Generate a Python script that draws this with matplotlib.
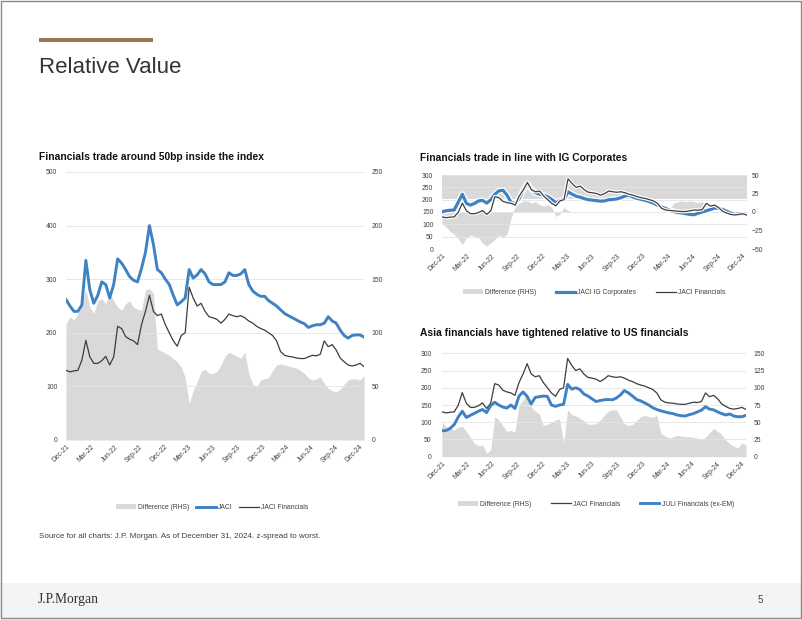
import numpy as np
import matplotlib
matplotlib.use('Agg')
import matplotlib.pyplot as plt
import matplotlib.patheffects as pe
from matplotlib.patches import Rectangle, Patch
from matplotlib.lines import Line2D

plt.rcParams['font.family'] = ['Liberation Sans', 'DejaVu Sans']

# quarterly date labels on every x axis
quarter_labels = ['Dec-21', 'Mar-22', 'Jun-22', 'Sep-22', 'Dec-22', 'Mar-23', 'Jun-23',
                  'Sep-23', 'Dec-23', 'Mar-24', 'Jun-24', 'Sep-24', 'Dec-24']

# chart 1: JACI vs JACI Financials (bp), difference on RHS
jaci = [262, 250, 240, 240, 252, 335, 280, 255, 270, 295,
        290, 265, 290, 338, 330, 318, 305, 298, 295, 320,
        350, 400, 365, 318, 312, 300, 290, 270, 252, 258,
        265, 318, 302, 308, 318, 310, 295, 290, 290, 290,
        295, 312, 307, 307, 310, 318, 290, 278, 272, 268,
        268, 260, 255, 250, 243, 236, 232, 228, 224, 220,
        217, 210, 213, 215, 215, 218, 230, 222, 218, 205,
        195, 190, 195, 196, 196, 192]
jaci_fin = [130, 127, 129, 130, 149, 186, 155, 143, 143, 148,
            156, 140, 155, 212, 208, 193, 188, 185, 178, 215,
            240, 270, 240, 232, 235, 215, 200, 185, 175, 195,
            200, 285, 265, 250, 255, 240, 230, 228, 225, 218,
            225, 235, 232, 230, 232, 228, 222, 218, 212, 208,
            205, 200, 195, 185, 165, 158, 156, 155, 153, 152,
            152, 155, 158, 157, 160, 185, 174, 178, 168, 153,
            146, 140, 138, 140, 143, 137]
diff_jaci = [108, 115, 112, 118, 125, 140, 124, 118, 130, 132,
             127, 137, 130, 124, 121, 127, 130, 124, 122, 121,
             140, 141, 137, 85, 83, 81, 79, 76, 73, 68,
             58, 34, 46, 54, 64, 66, 62, 62, 64, 70,
             78, 82, 80, 78, 76, 82, 62, 52, 50, 56,
             57, 58, 65, 70, 71, 70, 69, 68, 67, 65,
             62, 58, 56, 57, 59, 53, 48, 46, 45, 47,
             52, 56, 57, 57, 56, 60]

# chart 2: JACI IG Corporates vs JACI Financials
jaci_ig = [151, 155, 157, 158, 190, 222, 185, 178, 185, 195,
           197, 186, 200, 222, 236, 238, 218, 188, 184, 205,
           240, 265, 242, 228, 222, 218, 212, 201, 187, 197,
           200, 232, 222, 214, 210, 204, 200, 198, 196, 194,
           195, 200, 201, 203, 208, 215, 218, 210, 205, 201,
           197, 192, 186, 178, 170, 164, 157, 152, 148, 146,
           143, 140, 139, 145, 150, 155, 160, 166, 165, 160,
           153, 145, 140, 143, 142, 140]
diff_ig = [-16, -20, -26, -30, -36, -44, -35, -31, -33, -35,
           -42, -46, -42, -37, -31, -34, -30, -8, 8, 12,
           15, 15, 12, 14, 10, 8, 10, 6, -6, -3,
           6, 2, 0, 0, 0, 0, 0, 0, 0, 0,
           0, 0, 0, 0, 0, 0, 0, 0, 0, 0,
           0, 0, 0, 0, 0, 0, 4, 12, 14, 15,
           14, 15, 14, 13, 14, 10, 3, 0, 0, 0,
           0, 0, 0, 0, 0, 0]
ig_band = (17.5, 50)  # grey block drawn across the top of the RHS scale

# chart 3: JACI Financials vs JULI Financials (ex-EM)
juli_fin = [75, 76, 82, 93, 115, 132, 114, 120, 126, 132,
            137, 128, 148, 158, 150, 144, 141, 150, 140, 176,
            188, 175, 153, 172, 174, 176, 175, 150, 146, 150,
            152, 210, 196, 200, 195, 182, 176, 168, 160, 163,
            165, 166, 165, 170, 179, 192, 185, 176, 166, 162,
            156, 150, 142, 137, 133, 130, 127, 125, 121, 119,
            118, 122, 125, 130, 135, 145, 138, 136, 130, 125,
            121, 124, 118, 116, 116, 120]
diff_us = [50, 44, 41, 39, 43, 44, 37, 28, 19, 16,
           17, 5, 10, 58, 54, 45, 37, 38, 36, 75,
           82, 92, 72, 66, 62, 45, 47, 50, 53, 55,
           20, 68, 61, 59, 56, 52, 47, 47, 48, 53,
           60, 66, 68, 68, 58, 48, 45, 47, 52, 58,
           60, 58, 57, 60, 34, 30, 27, 29, 31, 30,
           29, 29, 28, 27, 25, 28, 35, 41, 37, 32,
           24, 19, 15, 13, 20, 17]

months = np.linspace(0, 36.5, len(jaci))   # months since end of Dec-21
quarter_ticks = np.arange(0, 37, 3)

GRAY = '#d9d9d9'
BLUE = '#3f82c4'
DARK = '#3d3d3d'
TXT = '#404040'
FS = 4.9

W, H = 802, 620


def box(l, t, r, b):
    return [l / W, 1 - b / H, (r - l) / W, (b - t) / H]


def setup(ax, tw, lticks, rticks, lpad=6.2, rpad=5.0):
    ax.set_zorder(tw.get_zorder() + 1)
    ax.patch.set_visible(False)
    for a in (ax, tw):
        for s in a.spines.values():
            s.set_visible(False)
        a.tick_params(length=0, labelsize=FS, colors=TXT)
    ax.set_xlim(0, 36.5)
    ax.set_xticks(quarter_ticks)
    ax.set_xticklabels(quarter_labels, rotation=45, ha='right', rotation_mode='anchor')
    ax.tick_params(axis='x', pad=2.5)
    ax.set_yticks(lticks)
    ax.set_ylim(lticks[0], lticks[-1])
    ax.tick_params(axis='y', pad=lpad)
    tw.set_yticks(rticks)
    tw.set_ylim(rticks[0], rticks[-1])
    tw.tick_params(axis='y', pad=rpad)
    ax.grid(axis='y', color='#e4e4e4', lw=0.6)
    ax.grid(axis='x', visible=False)


def legend(fig, handles, labels, cx, cy, spacing):
    fig.legend(handles, labels, loc='center', bbox_to_anchor=(cx / W, 1 - cy / H),
               ncol=3, frameon=False, fontsize=FS, labelcolor=TXT,
               handlelength=2.9, handleheight=0.75, handletextpad=0.3,
               columnspacing=spacing, borderpad=0, borderaxespad=0)


fig = plt.figure(figsize=(W / 100, H / 100), dpi=100)

# slide furniture
fig.patches.append(Rectangle((0, 0), 1, 37 / H, transform=fig.transFigure,
                             facecolor='#f3f4f6', edgecolor='none', zorder=0))
fig.patches.append(Rectangle((1 / W, 2 / H), 1 - 2.5 / W, 1 - 3 / H, transform=fig.transFigure,
                             fill=False, edgecolor='#8a8a8a', lw=1.0, zorder=5))
fig.patches.append(Rectangle((39 / W, 1 - 41.7 / H), 114 / W, 3.4 / H, transform=fig.transFigure,
                             facecolor='#9a7550', edgecolor='none'))
fig.text(39 / W, 1 - 73 / H, 'Relative Value', fontsize=16, color='#333333', va='baseline')
fig.text(39 / W, 1 - 537 / H,
         'Source for all charts: J.P. Morgan. As of December 31, 2024. z-spread to worst.',
         fontsize=5.8, color=TXT, va='center')
fig.text(38 / W, 1 - 600 / H, 'J.P.Morgan', fontsize=9.8, color='#333333', va='center',
         family=['Liberation Serif', 'DejaVu Serif'])
fig.text(760 / W, 1 - 600 / H, '5', fontsize=7, color=TXT, va='center', ha='center')

# chart 1
fig.text(39 / W, 1 - 160.5 / H, 'Financials trade around 50bp inside the index',
         fontsize=7.4, fontweight='bold', color='#111111', va='baseline')
ax1 = fig.add_axes(box(66, 172, 364, 440))
tw1 = ax1.twinx()
tw1.fill_between(months, 0, diff_jaci, color=GRAY, lw=0)
ax1.plot(months, jaci, color=BLUE, lw=2.1, solid_joinstyle='round')
ax1.plot(months, jaci_fin, color=DARK, lw=0.9)
setup(ax1, tw1, np.arange(0, 501, 100), np.arange(0, 251, 50), lpad=6.2, rpad=5.5)
legend(fig, [Patch(facecolor=GRAY, edgecolor='none'),
             Line2D([], [], color=BLUE, lw=2.1),
             Line2D([], [], color=DARK, lw=0.9)],
       ['Difference (RHS)', 'JACI', 'JACI Financials'], 212, 507.5, 1.0)

# chart 2
halo = [pe.Stroke(linewidth=4.2, foreground='white'), pe.Normal()]
halo_thin = [pe.Stroke(linewidth=2.6, foreground='white'), pe.Normal()]
fig.text(420 / W, 1 - 161 / H, 'Financials trade in line with IG Corporates',
         fontsize=7.4, fontweight='bold', color='#111111', va='baseline')
ax2 = fig.add_axes(box(442, 175, 747, 249))
tw2 = ax2.twinx()
tw2.axhspan(*ig_band, color=GRAY, lw=0)
tw2.fill_between(months, 0, diff_ig, color=GRAY, lw=0)
ax2.plot(months, jaci_ig, color=BLUE, lw=2.3, path_effects=halo, solid_joinstyle='round')
ax2.plot(months, jaci_fin, color=DARK, lw=0.9, path_effects=halo_thin)
setup(ax2, tw2, np.arange(0, 301, 50), np.arange(-50, 51, 25), lpad=6.2, rpad=3.5)
legend(fig, [Patch(facecolor=GRAY, edgecolor='none'),
             Line2D([], [], color=BLUE, lw=2.3),
             Line2D([], [], color=DARK, lw=0.9)],
       ['Difference (RHS)', 'JACI IG Corporates', 'JACI Financials'], 594, 292.5, 2.9)

# chart 3
fig.text(420 / W, 1 - 335.5 / H, 'Asia financials have tightened relative to US financials',
         fontsize=7.4, fontweight='bold', color='#111111', va='baseline')
ax3 = fig.add_axes(box(442, 353.3, 746, 456.7))
tw3 = ax3.twinx()
tw3.fill_between(months, 0, diff_us, color=GRAY, lw=0)
ax3.plot(months, jaci_fin, color=DARK, lw=0.9)
ax3.plot(months, juli_fin, color=BLUE, lw=2.1, solid_joinstyle='round')
setup(ax3, tw3, np.arange(0, 301, 50), np.arange(0, 151, 25), lpad=7.5, rpad=5.5)
legend(fig, [Patch(facecolor=GRAY, edgecolor='none'),
             Line2D([], [], color=DARK, lw=0.9),
             Line2D([], [], color=BLUE, lw=2.1)],
       ['Difference (RHS)', 'JACI Financials', 'JULI Financials (ex-EM)'], 596, 504, 2.9)

fig.savefig('out.png', dpi=100)
